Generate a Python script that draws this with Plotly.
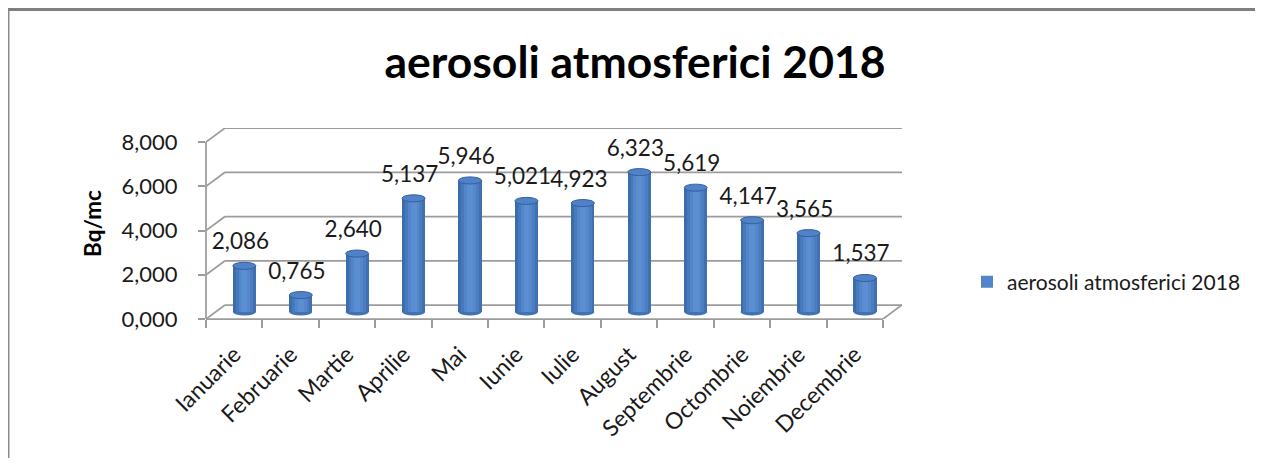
import plotly.graph_objects as go

# ---------------- data ----------------
months = ["Ianuarie", "Februarie", "Martie", "Aprilie", "Mai", "Iunie",
          "Iulie", "August", "Septembrie", "Octombrie", "Noiembrie", "Decembrie"]
values = [2.086, 0.765, 2.640, 5.137, 5.946, 5.021,
          4.923, 6.323, 5.619, 4.147, 3.565, 1.537]
series_name = "aerosoli atmosferici 2018"
chart_title = "aerosoli atmosferici 2018"
y_title = "Bq/mc"
y_ticks = [0, 2, 4, 6, 8]

# ---------------- geometry / style ----------------
OFF = 8                                      # page body margin
W, H = 1255, 450
PL, PR, PT, PB = 206 - OFF, 902 - OFF, 128 - OFF, 319 - OFF   # plot area (px)
DX, DY = 0.337, 0.633                        # 3-D depth offset (data units)
n = len(months)
XMIN, XMAX = -0.5, n - 0.5 + DX
YMIN, YMAX = 0, max(y_ticks) + DY
BASE = DY / 2                                # cylinders stand at mid depth
XOFF = 0.18
BW = 0.41
CAP = 0.16
LBL_DX, LBL_DY = -0.07, 1.0
GRID = "#9c9c9c"
FONT = "Lato"
TXT = "#1a1a1a"
strip_colors = ["#3d6cad", "#4779bd", "#5285c9", "#5a8ed1",
                "#5b8fd2", "#5587cb", "#4c7dc0", "#4170b0"]


def px_x(p):
    return (p - OFF - PL) / (PR - PL)


def px_y(p):
    return (PB - (p - OFF)) / (PB - PT)


idx = list(range(n))
fig = go.Figure()

# cylinders built from vertical shading strips
sw = BW / len(strip_colors)
for k, col in enumerate(strip_colors):
    fig.add_trace(go.Bar(
        x=[i + XOFF - BW / 2 + (k + 0.5) * sw for i in idx],
        y=values, base=BASE, width=sw,
        marker=dict(color=col, line=dict(width=0)),
        name=series_name, legendgroup="s",
        showlegend=(k == 2), hoverinfo="skip",
    ))

# data labels
fig.add_trace(go.Scatter(
    x=[i + XOFF + LBL_DX for i in idx],
    y=[v + BASE + LBL_DY for v in values],
    customdata=values,
    mode="text", texttemplate="%{customdata:.3f}",
    textfont=dict(family=FONT, size=22.5, color=TXT),
    xaxis="x2", yaxis="y", showlegend=False, cliponaxis=False,
    hoverinfo="skip",
))

shapes = []
line = dict(color=GRID, width=1.75)
# walls / gridlines
for v in y_ticks:
    shapes.append(dict(type="line", xref="x", yref="y", layer="below",
                       x0=XMIN, y0=v, x1=XMIN + DX, y1=v + DY, line=line))
    shapes.append(dict(type="line", xref="x", yref="y", layer="below",
                       x0=XMIN + DX, y0=v + DY, x1=XMAX, y1=v + DY, line=line))
# front vertical axis
shapes.append(dict(type="line", xref="paper", yref="y", layer="below",
                   x0=0, x1=0, y0=0, y1=max(y_ticks), line=line))
# front edge of floor
shapes.append(dict(type="line", xref="x", yref="paper", layer="below",
                   x0=XMIN, x1=n - 0.5, y0=0, y1=0, line=line))
# right edge of floor
shapes.append(dict(type="line", xref="x", yref="y", layer="below",
                   x0=n - 0.5, y0=0, x1=n - 0.5 + DX, y1=DY, line=line))
# bottom ellipses
for i in idx:
    shapes.append(dict(type="circle", xref="x", yref="y", layer="below",
                       x0=i + XOFF - BW / 2, x1=i + XOFF + BW / 2,
                       y0=BASE - CAP, y1=BASE + CAP,
                       fillcolor="#4272b3", line=dict(width=0)))
# top ellipses
for i, v in zip(idx, values):
    shapes.append(dict(type="circle", xref="x", yref="y", layer="above",
                       x0=i + XOFF - BW / 2, x1=i + XOFF + BW / 2,
                       y0=v + BASE - CAP, y1=v + BASE + CAP,
                       fillcolor="#4f82c6", line=dict(color="#36609f", width=1)))
# chart border
shapes.append(dict(type="rect", xref="paper", yref="paper", layer="above",
                   x0=px_x(8.75), x1=px_x(1256), y0=px_y(480), y1=px_y(9),
                   line=dict(color="#8c8c8c", width=1.5)))
shapes.append(dict(type="line", xref="paper", yref="paper", layer="above",
                   x0=px_x(8), x1=px_x(1256), y0=px_y(9.5), y1=px_y(9.5),
                   line=dict(color="#7f7f7f", width=3)))

fig.update_layout(
    width=W, height=H,
    margin=dict(l=PL, r=W - PR, t=PT, b=H - PB, pad=0),
    paper_bgcolor="white", plot_bgcolor="rgba(0,0,0,0)",
    separators=",.",
    barmode="overlay", bargap=0,
    font=dict(family=FONT, size=22, color=TXT),
    title=dict(text="<b>" + chart_title + "</b>",
               x=(635 - OFF) / W, xanchor="center",
               y=1 - (62 - OFF) / H, yanchor="middle",
               font=dict(family=FONT, size=44.5, color="#000000")),
    xaxis=dict(range=[XMIN, XMAX], showgrid=False, zeroline=False,
               showline=False, tickmode="array",
               tickvals=[i - 0.5 for i in range(n + 1)],
               showticklabels=False, ticks="outside", ticklen=8,
               tickwidth=1.75, tickcolor=GRID, fixedrange=True),
    xaxis2=dict(range=[XMIN, XMAX], overlaying="x", anchor="y", side="bottom",
                showgrid=False, zeroline=False, showline=False,
                tickmode="array", tickvals=idx, ticktext=months,
                tickangle=-45, ticks="outside", ticklen=12,
                tickcolor="rgba(0,0,0,0)",
                tickfont=dict(family=FONT, size=23, color=TXT)),
    yaxis=dict(range=[YMIN, YMAX], showgrid=False, zeroline=False,
               showline=False, tickmode="array", tickvals=y_ticks,
               tickformat=".3f", ticks="outside", ticklen=7, tickwidth=1.75,
               tickcolor=GRID, ticklabelstandoff=16,
               tickfont=dict(family=FONT, size=22, color=TXT),
               title=dict(text="<b>" + y_title + "</b>", standoff=13,
                          font=dict(family=FONT, size=22.5, color="#000000"))),
    legend=dict(x=px_x(967), xanchor="left", y=px_y(282), yanchor="middle",
                font=dict(family=FONT, size=21, color=TXT),
                bgcolor="rgba(0,0,0,0)", borderwidth=0),
    showlegend=True,
)
fig.update_layout(shapes=shapes)

fig.write_html("out.html")
